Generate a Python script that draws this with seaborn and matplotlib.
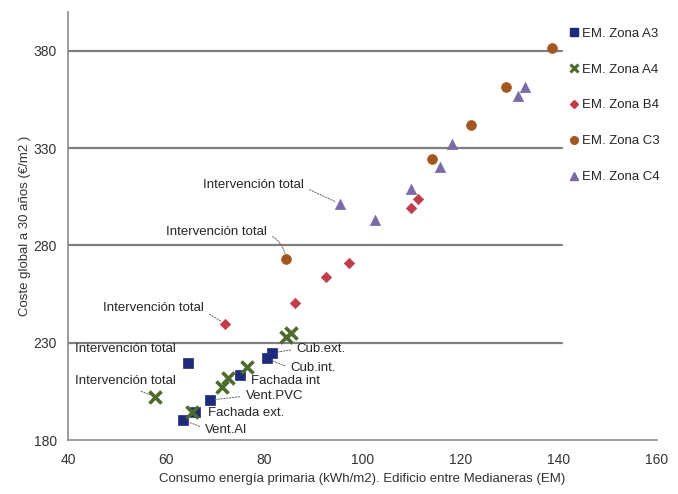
import matplotlib
matplotlib.use("Agg")
import matplotlib.pyplot as plt
from matplotlib.lines import Line2D
import seaborn as sns
import pandas as pd

# ---- data ----
a3_x = [63.5, 65.9, 68.9, 75.0, 80.5, 81.5, 64.5]
a3_y = [190.3, 194.2, 200.5, 213.3, 221.9, 224.8, 219.8]
a4_x = [57.7, 65.2, 71.3, 72.6, 76.4, 84.5, 85.5]
a4_y = [202.2, 194.5, 207.4, 211.7, 217.3, 233.0, 235.0]
b4_x = [72.0, 86.2, 92.5, 97.2, 109.9, 111.3]
b4_y = [239.8, 250.4, 263.7, 271.1, 299.1, 304.0]
c3_x = [84.4, 114.1, 122.2, 129.2, 138.7]
c3_y = [272.8, 324.4, 341.9, 361.7, 381.7]
c4_x = [95.4, 102.6, 109.9, 115.8, 118.3, 131.7, 133.2]
c4_y = [301.4, 293.2, 309.1, 320.5, 332.2, 356.6, 361.7]

series_names = ["EM. Zona A3", "EM. Zona A4", "EM. Zona B4", "EM. Zona C3", "EM. Zona C4"]
x_ticks = [40, 60, 80, 100, 120, 140, 160]
y_ticks = [180, 230, 280, 330, 380]
x_label = "Consumo energía primaria (kWh/m2). Edificio entre Medianeras (EM)"
y_label = "Coste global a 30 años (€/m2 )"

sns.set_style("white")
plt.rcParams["font.family"] = ["Liberation Sans", "DejaVu Sans"]

fig = plt.figure(figsize=(6.78, 4.94), dpi=100)
ax = fig.add_axes([68 / 678, 1 - 440 / 494, (657 - 68) / 678, (440 - 12) / 494])

colors = ["#1f2a7c", "#4d6b2c", "#c43c4a", "#a4561f", "#7a6aa8"]
markers = ["s", "X", "D", "o", "^"]
sizes = [60, 70, 28, 50, 55]
xs = [a3_x, a4_x, b4_x, c3_x, c4_x]
ys = [a3_y, a4_y, b4_y, c3_y, c4_y]

# horizontal grid lines
for yv in y_ticks[1:]:
    ax.axhline(yv, xmin=0, xmax=(562 - 68) / (657 - 68), color="#7f7f7f", lw=1.6, zorder=1)

for name, c, m, s, xv, yv in zip(series_names, colors, markers, sizes, xs, ys):
    df = pd.DataFrame({"x": xv, "y": yv})
    if m == "X":
        sns.scatterplot(data=df, x="x", y="y", marker="x", s=75, color=c,
                        linewidth=2.6, ax=ax, zorder=3)
    else:
        sns.scatterplot(data=df, x="x", y="y", marker=m, s=s, color=c,
                        edgecolor=c, linewidth=0.5, ax=ax, zorder=3)

ax.set_xlim(40, 160)
ax.set_ylim(180, 400)
ax.set_xticks(x_ticks)
ax.set_yticks(y_ticks)
ax.tick_params(axis="both", labelsize=10, colors="#333333")
ax.tick_params(axis="x", direction="out", length=4, width=1, color="#888888", pad=5)
ax.tick_params(axis="y", length=0, pad=8)
for sp in ["top", "right"]:
    ax.spines[sp].set_visible(False)
for sp in ["left", "bottom"]:
    ax.spines[sp].set_color("#8a8a8a")
    ax.spines[sp].set_linewidth(1.2)

ax.set_xlabel(x_label, fontsize=9.5, labelpad=5, color="#333333")
ax.set_ylabel(y_label, fontsize=9.5, labelpad=2, color="#333333")

lead = dict(arrowstyle="-", color="#666666", lw=0.7, linestyle=(0, (1.5, 1.5)))
fs = 9.5
# "Intervención total" annotations
ax.annotate("Intervención total", xy=(95.4, 301.4), xytext=(67.5, 311.3),
            fontsize=fs, va="center", ha="left",
            arrowprops=dict(lead, relpos=(1, 0.3), shrinkB=4))
ax.annotate("Intervención total", xy=(84.4, 272.8), xytext=(60.0, 286.7),
            fontsize=fs, va="center", ha="left",
            arrowprops=dict(lead, relpos=(1, 0.4), shrinkB=4,
                            connectionstyle="arc3,rad=-0.3"))
ax.annotate("Intervención total", xy=(72.0, 239.8), xytext=(47.1, 247.7),
            fontsize=fs, va="center", ha="left",
            arrowprops=dict(lead, relpos=(1, 0.3), shrinkB=3))
ax.text(41.4, 226.7, "Intervención total", fontsize=fs, va="center", ha="left")
ax.annotate("Intervención total", xy=(57.7, 202.2), xytext=(41.4, 210.3),
            fontsize=fs, va="center", ha="left",
            arrowprops=dict(lead, relpos=(0.55, 0), shrinkB=4))

# A3 measure labels
ax.annotate("Cub.ext.", xy=(81.5, 224.8), xytext=(86.6, 226.7), fontsize=fs,
            va="center", ha="left", arrowprops=dict(lead, relpos=(0, 0.5), shrinkB=4))
ax.annotate("Cub.int.", xy=(80.5, 221.9), xytext=(85.4, 216.9), fontsize=fs,
            va="center", ha="left", arrowprops=dict(lead, relpos=(0, 0.5), shrinkB=4))
ax.annotate("Fachada int", xy=(75.0, 213.3), xytext=(77.2, 210.3), fontsize=fs,
            va="center", ha="left", arrowprops=dict(lead, relpos=(0, 0.5), shrinkB=4))
ax.annotate("Vent.PVC", xy=(68.9, 200.5), xytext=(76.2, 202.6), fontsize=fs,
            va="center", ha="left", arrowprops=dict(lead, relpos=(0, 0.5), shrinkB=4))
ax.annotate("Fachada ext.", xy=(65.9, 194.2), xytext=(68.6, 193.8), fontsize=fs,
            va="center", ha="left")
ax.annotate("Vent.Al", xy=(63.5, 190.3), xytext=(68.0, 185.2), fontsize=fs,
            va="center", ha="left", arrowprops=dict(lead, relpos=(0, 0.6), shrinkB=4))

# legend
handles = []
for name, c, m in zip(series_names, colors, markers):
    if m == "X":
        handles.append(Line2D([], [], marker="x", color=c, linestyle="none",
                              markersize=6, markeredgewidth=2.2, label=name))
    else:
        handles.append(Line2D([], [], marker=m, color=c, linestyle="none",
                              markersize=5.5 if m != "D" else 4.5, label=name))
fig.legend(handles=handles, loc="upper left", bbox_to_anchor=(563 / 678, 1 - 22 / 494),
           frameon=False, fontsize=9.5, labelspacing=1.8, handletextpad=0.15,
           handlelength=0.9, borderaxespad=0)

fig.savefig("out.png", dpi=100)
